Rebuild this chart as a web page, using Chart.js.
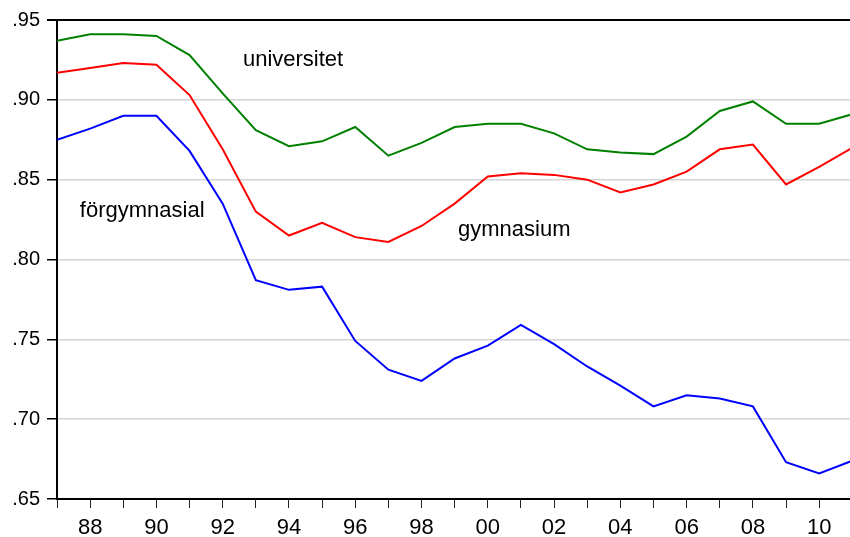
<!DOCTYPE html>
<html>
<head>
<meta charset="utf-8">
<script src="https://cdn.jsdelivr.net/npm/chart.js@4"></script>
<style>
  html, body { margin: 0; padding: 0; background: #fff; }
  #wrap { width: 850px; height: 537px; }
</style>
</head>
<body>
<div id="wrap"><canvas id="chart"></canvas></div>
<script>
// years 1987 - 2011
const years = [1987,1988,1989,1990,1991,1992,1993,1994,1995,1996,1997,1998,1999,
               2000,2001,2002,2003,2004,2005,2006,2007,2008,2009,2010,2011];

const universitet = [0.937,0.941,0.941,0.940,0.928,0.904,0.881,0.871,0.874,0.883,0.865,0.873,
                     0.883,0.885,0.885,0.879,0.869,0.867,0.866,0.877,0.893,0.899,0.885,0.885,0.891];
const gymnasium = [0.917,0.920,0.923,0.922,0.903,0.869,0.830,0.815,0.823,0.814,0.811,0.821,
                   0.835,0.852,0.854,0.853,0.850,0.842,0.847,0.855,0.869,0.872,0.847,0.858,0.870];
const forgymnasial = [0.875,0.882,0.890,0.890,0.868,0.835,0.787,0.781,0.783,0.749,0.731,0.724,
                      0.738,0.746,0.759,0.747,0.733,0.721,0.708,0.715,0.713,0.708,0.673,0.666,0.674];

const yTicks = [0.65,0.70,0.75,0.80,0.85,0.90,0.95];
const xTicks = years.slice(0, 24); // 1987..2010, labels on even years

// text labels inside the plot: [text, x (year), y (value)]
const seriesLabels = [
  ["universitet", 1992.61, 0.9253],
  ["gymnasium", 1999.1, 0.8185],
  ["förgymnasial", 1987.69, 0.8303]
];

const font = "'Liberation Sans', Arial, sans-serif";

function toPoints(vals) {
  return vals.map((v, i) => ({ x: years[i], y: v }));
}

const labelPlugin = {
  id: "seriesLabels",
  afterDatasetsDraw(chart) {
    const ctx = chart.ctx;
    const xs = chart.scales.x, ys = chart.scales.y;
    ctx.save();
    ctx.fillStyle = "#000";
    ctx.font = "22px " + font;
    ctx.textAlign = "left";
    ctx.textBaseline = "middle";
    seriesLabels.forEach(l => {
      ctx.fillText(l[0], xs.getPixelForValue(l[1]), ys.getPixelForValue(l[2]));
    });
    ctx.restore();
  }
};

function line(data, color) {
  return {
    data: toPoints(data),
    borderColor: color,
    borderWidth: 2,
    pointRadius: 0,
    tension: 0,
    fill: false
  };
}

new Chart(document.getElementById("chart"), {
  type: "line",
  data: {
    datasets: [
      line(universitet, "#008000"),
      line(gymnasium, "#ff0000"),
      line(forgymnasial, "#0000ff")
    ]
  },
  options: {
    responsive: true,
    maintainAspectRatio: false,
    animation: false,
    layout: { padding: { top: 20, right: 0, left: 0, bottom: 0 } },
    plugins: { legend: { display: false }, tooltip: { enabled: false } },
    scales: {
      x: {
        type: "linear",
        min: 1987,
        max: 2010.93,
        afterFit(scale) { scale.height = 38; },
        afterBuildTicks(scale) { scale.ticks = xTicks.map(v => ({ value: v })); },
        border: { display: true, color: "#000", width: 2 },
        grid: { drawOnChartArea: false, drawTicks: true, tickLength: 9, tickColor: "#222", lineWidth: 1 },
        ticks: {
          autoSkip: false,
          maxRotation: 0,
          padding: 7,
          color: "#000",
          font: { family: font, size: 22 },
          callback: v => (v % 2 === 0 ? String(v % 100).padStart(2, "0") : "")
        }
      },
      y: {
        min: 0.65,
        max: 0.95,
        afterFit(scale) { scale.width = 57; },
        afterBuildTicks(scale) { scale.ticks = yTicks.map(v => ({ value: v })); },
        border: { display: true, color: "#000", width: 2 },
        grid: {
          drawTicks: true,
          tickLength: 10,
          tickColor: "#000",
          color: c => (c.tick && Math.abs(c.tick.value - 0.95) < 1e-6 ? "#000" : "#d4d4d4"),
          lineWidth: c => (c.tick && Math.abs(c.tick.value - 0.95) < 1e-6 ? 2 : 1.5)
        },
        ticks: {
          padding: 7,
          color: "#000",
          font: { family: font, size: 20 },
          callback: v => v.toFixed(2).replace(/^0/, "")
        }
      }
    }
  },
  plugins: [labelPlugin]
});
</script>
</body>
</html>
